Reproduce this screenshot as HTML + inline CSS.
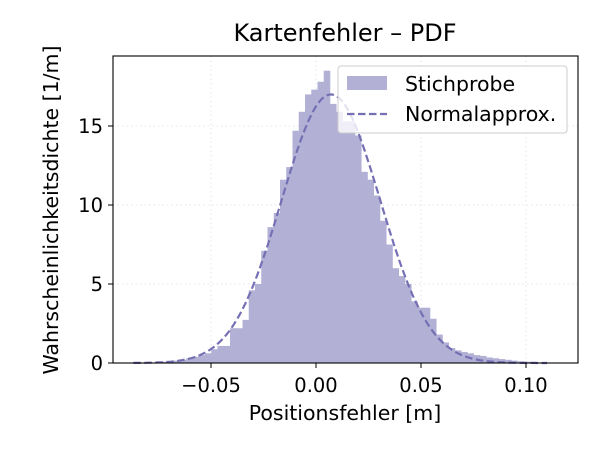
<!DOCTYPE html>
<html><head><meta charset="utf-8"><style>
body{margin:0;background:#fff;font-family:"DejaVu Sans","Liberation Sans",sans-serif;}
</style></head><body>
<svg id="chart" width="600" height="450" xmlns="http://www.w3.org/2000/svg">
<rect width="600" height="450" fill="#fff"/>
<text x="345" y="41" font-size="24" text-anchor="middle" fill="#000">Kartenfehler – PDF</text>
<g id="grid"></g>
<g id="bars"></g>
<path id="curve" fill="none" stroke="#7570b3" stroke-width="2.2" stroke-dasharray="7.5,3.5"/>
<rect x="113" y="56" width="465" height="307" fill="none" stroke="#000" stroke-width="1.1"/>
<g id="ticks" font-size="19.5" fill="#000"></g>
<text x="345" y="420" font-size="20.5" text-anchor="middle">Positionsfehler [m]</text>
<text transform="translate(58,210) rotate(-90)" font-size="20.5" text-anchor="middle">Wahrscheinlichkeitsdichte [1/m]</text>
<g>
<rect x="338" y="66" width="229" height="67" rx="3" fill="#fff" fill-opacity="0.8" stroke="#ccc"/>
<rect x="347" y="76" width="40" height="14" fill="#b2b0d5"/>
<text x="405" y="91" font-size="20.5">Stichprobe</text>
<line x1="347" y1="114" x2="387" y2="114" stroke="#7570b3" stroke-width="2.2" stroke-dasharray="7.5,3.5"/>
<text x="405" y="121" font-size="20.5">Normalapprox.</text>
</g>
</svg>
<script>
const binStart = -0.07964;
const binWidth = 0.002976;
const densities = [0.03,0.05,0.08,0.1,0.15,0.2,0.3,0.4,0.5,0.61,0.87,1.08,1.08,2.2,2.2,2.73,4.6,5.0,7.1,8.6,9.5,11.6,12.4,14.7,15.9,17.0,17.3,17.8,18.5,16.4,15.9,15.3,15.3,14.4,12.1,11.6,10.6,9.0,7.5,6.0,5.5,5.0,3.9,3.5,3.5,2.8,1.8,1.3,0.95,0.8,0.7,0.61,0.5,0.45,0.35,0.3,0.25,0.2,0.15,0.1,0.08,0.05,0.03];
const mu = 0.0071;
const sigma = 0.02347;
const xTicks = [-0.05,0,0.05,0.10];
const xTickLabels = ["−0.05","0.00","0.05","0.10"];
const yTicks = [0,5,10,15];
const yTickLabels = ["0","5","10","15"];

const NS="http://www.w3.org/2000/svg";
const X=v=>316+v*2100;
const Y=v=>363-v*15.8;
const mk=(t,a,p)=>{const e=document.createElementNS(NS,t);for(const k in a)e.setAttribute(k,a[k]);p.appendChild(e);return e;};
const grid=document.getElementById('grid'),bars=document.getElementById('bars'),ticks=document.getElementById('ticks');
xTicks.forEach((v,i)=>{
  const g=mk('line',{x1:X(v),x2:X(v),y1:56,y2:363,stroke:'#e4e4e4','stroke-dasharray':'1.5,3'},grid);
  
  
  const t=mk('line',{x1:X(v),x2:X(v),y1:363,y2:368,stroke:'#000'},ticks);
  
  
  const l=mk('text',{x:X(v),y:392,'text-anchor':'middle'},ticks);l.textContent=xTickLabels[i];
  
  
});
yTicks.forEach((v,i)=>{
  const g=mk('line',{x1:113,x2:578,y1:Y(v),y2:Y(v),stroke:'#e4e4e4','stroke-dasharray':'1.5,3'},grid);
  
  
  const t=mk('line',{x1:108,x2:113,y1:Y(v),y2:Y(v),stroke:'#000'},ticks);
  
  
  const l=mk('text',{x:103,y:Y(v)+7,'text-anchor':'end'},ticks);l.textContent=yTickLabels[i];
  
  
});
densities.forEach((d,i)=>{
  const x0=X(binStart+i*binWidth),x1=X(binStart+(i+1)*binWidth);
  const r=mk('rect',{x:x0,y:Y(d),width:x1-x0+0.3,height:Y(0)-Y(d),fill:'#b2b0d5'},bars);
  
  
});
let p='';
for(let i=0;i<=200;i++){const x=-0.087+i*(0.197/200);const y=Math.exp(-0.5*((x-mu)/sigma)**2)/(sigma*Math.sqrt(2*Math.PI));p+=(i?'L':'M')+X(x).toFixed(1)+','+Y(y).toFixed(1);}
document.getElementById('curve').setAttribute('d',p);
</script>
</body></html>
